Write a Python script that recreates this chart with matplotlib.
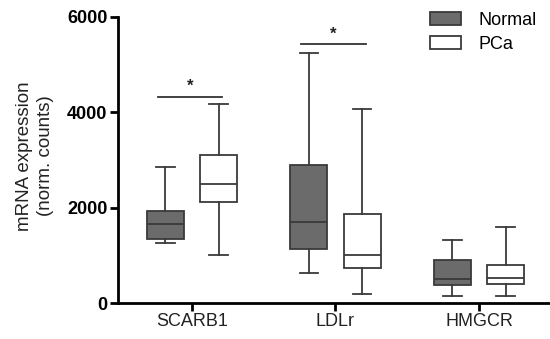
import matplotlib
matplotlib.use("Agg")
import matplotlib.pyplot as plt
from matplotlib.patches import Patch

plt.rcParams['font.family'] = ['Liberation Sans', 'DejaVu Sans']

genes = ["SCARB1", "LDLr", "HMGCR"]
groups = ["Normal", "PCa"]
# [whisker_low, q1, median, q3, whisker_high]
normal_stats = [
    [1260, 1345, 1655, 1930, 2850],
    [630, 1135, 1700, 2895, 5245],
    [150, 380, 500, 900, 1320],
]
pca_stats = [
    [1010, 2120, 2495, 3105, 4175],
    [190, 735, 1005, 1865, 4070],
    [150, 400, 525, 800, 1595],
]
sig_pairs = [0, 1]          # genes with significant difference
sig_heights = [4320, 5430]

fig = plt.figure(figsize=(5.5, 3.39), dpi=100)
ax = fig.add_axes([0.2145, 0.106, 0.7855, 0.844])

def mk(stats, label):
    lo, q1, med, q3, hi = stats
    return dict(whislo=lo, q1=q1, med=med, q3=q3, whishi=hi, fliers=[], label=label)

off = 0.185
w = 0.258
edge = "#3a3a3a"
fills = ["#6b6b6b", "white"]
for gi, stats_list in enumerate([normal_stats, pca_stats]):
    pos = [i + (-off if gi == 0 else off) for i in range(len(genes))]
    bx = [mk(s, genes[i]) for i, s in enumerate(stats_list)]
    ax.bxp(bx, positions=pos, widths=w, patch_artist=True, showfliers=False,
           boxprops=dict(facecolor=fills[gi], edgecolor=edge, linewidth=1.3),
           medianprops=dict(color=edge, linewidth=1.3),
           whiskerprops=dict(color=edge, linewidth=1.3),
           capprops=dict(color=edge, linewidth=1.3),
           capwidths=w * 0.5, manage_ticks=False)

for i, h in zip(sig_pairs, sig_heights):
    ax.plot([i - 0.24, i + 0.21], [h, h], color="#333333", lw=1.3)
    ax.text(i - 0.015, h + 60, "*", ha="center", va="bottom", fontsize=12, fontweight="bold",
            color="#222222")

ax.set_xlim(-0.516, 2.495)
ax.set_ylim(0, 6000)
ax.set_yticks([0, 2000, 4000, 6000])
ax.set_yticklabels(["0", "2000", "4000", "6000"], fontsize=13, fontweight="bold")
ax.set_xticks(range(len(genes)))
ax.set_xticklabels(genes, fontsize=13, color="#222222")
for s in ["top", "right"]:
    ax.spines[s].set_visible(False)
for s in ["left", "bottom"]:
    ax.spines[s].set_linewidth(2)
    ax.spines[s].set_color("black")
ax.tick_params(axis="both", width=2, length=6, color="black", pad=1.5)
ax.set_ylabel("mRNA expression\n(norm. counts)", fontsize=13.5, color="#222222", linespacing=1.3)
ax.yaxis.set_label_coords(-0.148, 0.515)

handles = [Patch(facecolor=fills[0], edgecolor=edge, lw=1.3, label="Normal"),
           Patch(facecolor=fills[1], edgecolor=edge, lw=1.3, label="PCa")]
fig.legend(handles=handles, loc="upper left", bbox_to_anchor=(0.782, 0.965), frameon=False,
           fontsize=13, handlelength=1.7, handleheight=0.75, handletextpad=1.0, labelspacing=0.4,
           borderaxespad=0, borderpad=0)

fig.savefig("out.png", dpi=100)
